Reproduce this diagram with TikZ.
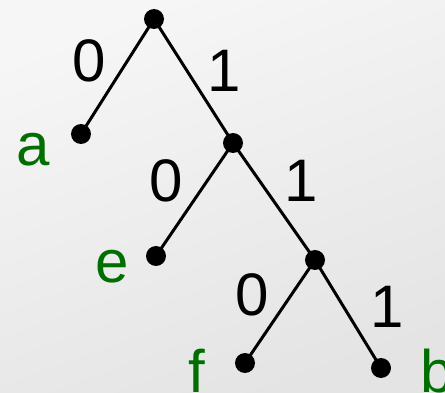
\documentclass[tikz,border=0pt]{standalone}
\usepackage{fontspec}
\setmainfont{Liberation Sans}
\definecolor{lblgreen}{RGB}{0,110,0}
\definecolor{bgtop}{RGB}{246,246,246}
\definecolor{bgbot}{RGB}{228,228,228}
\begin{document}
\begin{tikzpicture}[x=1pt,y=-1pt,
  dot/.style={circle,fill=black,inner sep=0pt,minimum size=20pt},
  edge/.style={line width=3pt,black},
  bit/.style={anchor=base,inner sep=0pt,font=\fontsize{60}{60}\selectfont},
  sym/.style={anchor=base,inner sep=0pt,text=lblgreen,font=\fontsize{60}{60}\selectfont}]
\useasboundingbox (0,0) rectangle (445,393);
\shade[top color=bgtop,bottom color=bgbot,shading angle=20] (0,0) rectangle (445,393);
\node[dot] (r) at (154,19) {};
\node[dot] (a) at (81,134) {};
\node[dot] (n1) at (233,143) {};
\node[dot] (e) at (156,256) {};
\node[dot] (n2) at (315,260) {};
\node[dot] (f) at (245,363) {};
\node[dot] (b) at (381,368) {};
\draw[edge] (r.center) -- (a.center);
\draw[edge] (r.center) -- (n1.center);
\draw[edge] (n1.center) -- (e.center);
\draw[edge] (n1.center) -- (n2.center);
\draw[edge] (n2.center) -- (f.center);
\draw[edge] (n2.center) -- (b.center);
\node[bit] (l0a) at (89,82) {0};
\node[bit] (l1a) at (224,92) {1};
\node[bit] (l0b) at (166,202) {0};
\node[bit] (l1b) at (301,202) {1};
\node[bit] (l0c) at (252,316) {0};
\node[bit] (l1c) at (387,327) {1};
\node[sym] (ta) at (33,166) {a};
\node[sym] (te) at (112,283) {e};
\node[sym] (tf) at (197,392) {f};
\node[sym] (tb) at (437,392) {b};
\end{tikzpicture}
\end{document}
